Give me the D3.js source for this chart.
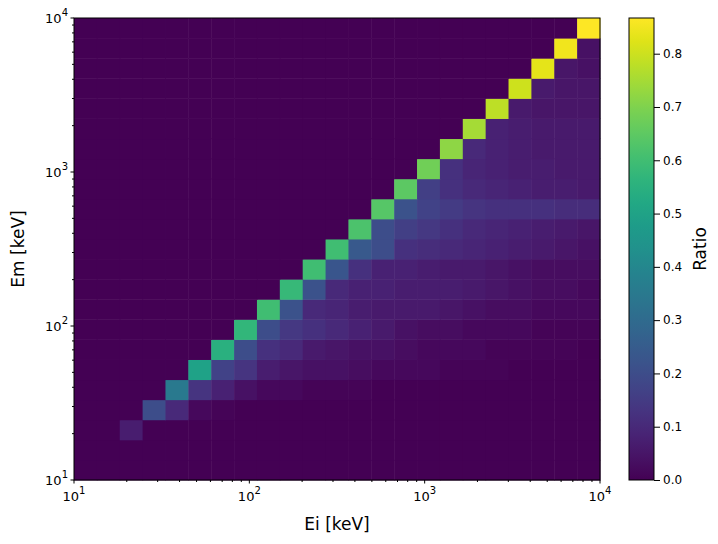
<!DOCTYPE html>
<html>
<head>
<script src="https://cdnjs.cloudflare.com/ajax/libs/d3/7.8.5/d3.min.js"></script>
<style>
  body { margin: 0; background: #fff; }
  text { font-family: "DejaVu Sans", sans-serif; }
</style>
</head>
<body>
<div id="chart"></div>
<script>
// 23 log-spaced bins from 10 to 1e4 keV on both axes
const nBins = 23;
const binEdges = d3.range(nBins + 1).map(k => Math.pow(10, 1 + 3 * k / nBins));
const decadeTicks = [1, 2, 3, 4];

// ratio per Em row, listed from the diagonal column (Ei bin == Em bin) rightwards
const rowsFromDiagonal = [
  [],
  [],
  [0.07],
  [0.2, 0.1, 0.02, 0.01],
  [0.35, 0.13, 0.08, 0.04, 0.02, 0.02, 0.01, 0.01, 0.01],
  [0.5, 0.17, 0.13, 0.07, 0.05, 0.04, 0.04, 0.03, 0.02, 0.02, 0.02, 0.01, 0.01, 0.01],
  [0.55, 0.2, 0.12, 0.1, 0.06, 0.05, 0.04, 0.04, 0.03, 0.02, 0.02, 0.02, 0.01, 0.01, 0.01, 0.01],
  [0.57, 0.2, 0.14, 0.12, 0.1, 0.08, 0.06, 0.04, 0.03, 0.03, 0.02, 0.02, 0.02, 0.01, 0.01, 0.01],
  [0.6, 0.22, 0.1, 0.09, 0.07, 0.06, 0.06, 0.06, 0.05, 0.04, 0.03, 0.03, 0.02, 0.02, 0.02],
  [0.58, 0.22, 0.1, 0.08, 0.08, 0.07, 0.07, 0.07, 0.06, 0.05, 0.04, 0.03, 0.03, 0.02],
  [0.6, 0.23, 0.12, 0.08, 0.08, 0.07, 0.06, 0.06, 0.05, 0.04, 0.03, 0.03, 0.03],
  [0.6, 0.24, 0.2, 0.12, 0.11, 0.1, 0.09, 0.08, 0.07, 0.06, 0.05, 0.04],
  [0.62, 0.2, 0.16, 0.14, 0.12, 0.1, 0.09, 0.08, 0.07, 0.06, 0.05],
  [0.64, 0.22, 0.17, 0.15, 0.13, 0.12, 0.12, 0.12, 0.11, 0.11],
  [0.65, 0.16, 0.12, 0.1, 0.09, 0.08, 0.07, 0.07, 0.06],
  [0.68, 0.12, 0.09, 0.08, 0.07, 0.07, 0.06, 0.06],
  [0.72, 0.1, 0.08, 0.07, 0.06, 0.06, 0.06],
  [0.75, 0.08, 0.07, 0.06, 0.06, 0.06],
  [0.78, 0.06, 0.05, 0.05, 0.05],
  [0.8, 0.06, 0.05, 0.05],
  [0.83, 0.05, 0.04],
  [0.85, 0.04],
  [0.865]
];
const colorTicks = [0, 0.1, 0.2, 0.3, 0.4, 0.5, 0.6, 0.7, 0.8];
const vmax = 0.867;

const width = 718, height = 544;
const margin = { left: 74, right: 118, top: 18, bottom: 64 };
const plotW = width - margin.left - margin.right;
const plotH = height - margin.top - margin.bottom;

const svg = d3.select("#chart").append("svg")
  .attr("width", width).attr("height", height);

const x = d3.scaleLog().domain([10, 1e4]).range([margin.left, margin.left + plotW]);
const y = d3.scaleLog().domain([10, 1e4]).range([margin.top + plotH, margin.top]);
const color = d3.scaleSequential(d3.interpolateViridis).domain([0, vmax]);

// build full cell list
const cells = [];
for (let j = 0; j < nBins; j++) {
  for (let i = 0; i < nBins; i++) {
    const row = rowsFromDiagonal[j];
    const v = i >= j && i - j < row.length ? row[i - j] : 0;
    cells.push({ i, j, v });
  }
}

svg.append("g").selectAll("rect")
  .data(cells)
  .join("rect")
  .attr("x", d => x(binEdges[d.i]))
  .attr("y", d => y(binEdges[d.j + 1]))
  .attr("width", d => x(binEdges[d.i + 1]) - x(binEdges[d.i]) + 0.5)
  .attr("height", d => y(binEdges[d.j]) - y(binEdges[d.j + 1]) + 0.5)
  .attr("fill", d => color(d.v));

svg.append("rect")
  .attr("x", margin.left).attr("y", margin.top)
  .attr("width", plotW).attr("height", plotH)
  .attr("fill", "none").attr("stroke", "#000");

// log ticks with superscript labels
const minor = [];
for (let e = 1; e < 4; e++) for (let m = 2; m <= 9; m++) minor.push(m * Math.pow(10, e));

function powLabel(sel, e) {
  sel.append("tspan").text("10");
  sel.append("tspan").attr("dy", -7).attr("font-size", 10).text(e);
}

const xg = svg.append("g");
minor.forEach(v => xg.append("line").attr("x1", x(v)).attr("x2", x(v))
  .attr("y1", margin.top + plotH).attr("y2", margin.top + plotH + 2).attr("stroke", "#000"));
decadeTicks.forEach(e => {
  const px = x(Math.pow(10, e));
  xg.append("line").attr("x1", px).attr("x2", px)
    .attr("y1", margin.top + plotH).attr("y2", margin.top + plotH + 3.5).attr("stroke", "#000");
  xg.append("text").attr("x", px).attr("y", margin.top + plotH + 21)
    .attr("text-anchor", "middle").attr("font-size", 13).call(powLabel, e);
});

const yg = svg.append("g");
minor.forEach(v => yg.append("line").attr("x1", margin.left - 2).attr("x2", margin.left)
  .attr("y1", y(v)).attr("y2", y(v)).attr("stroke", "#000"));
decadeTicks.forEach(e => {
  const py = y(Math.pow(10, e));
  yg.append("line").attr("x1", margin.left - 3.5).attr("x2", margin.left)
    .attr("y1", py).attr("y2", py).attr("stroke", "#000");
  yg.append("text").attr("x", margin.left - 6).attr("y", py + 5)
    .attr("text-anchor", "end").attr("font-size", 13).call(powLabel, e);
});

svg.append("text").attr("x", margin.left + plotW / 2).attr("y", 530)
  .attr("text-anchor", "middle").attr("font-size", 17).text("Ei [keV]");
svg.append("text").attr("transform", `translate(24,${margin.top + plotH / 2}) rotate(-90)`)
  .attr("text-anchor", "middle").attr("font-size", 17).text("Em [keV]");

// colorbar
const cbX = 629, cbW = 25;
const cy = d3.scaleLinear().domain([0, vmax]).range([margin.top + plotH, margin.top]);
const defs = svg.append("defs");
const grad = defs.append("linearGradient").attr("id", "cb")
  .attr("x1", 0).attr("y1", 1).attr("x2", 0).attr("y2", 0);
d3.range(0, 1.0001, 0.05).forEach(t => grad.append("stop")
  .attr("offset", t).attr("stop-color", d3.interpolateViridis(t)));
svg.append("rect").attr("x", cbX).attr("y", margin.top)
  .attr("width", cbW).attr("height", plotH)
  .attr("fill", "url(#cb)").attr("stroke", "#000");
const cAxis = d3.axisRight(cy).tickValues(colorTicks).tickFormat(d3.format(".1f")).tickSizeOuter(0);
svg.append("g").attr("transform", `translate(${cbX + cbW},0)`).call(cAxis)
  .call(g => g.select(".domain").remove())
  .call(g => g.selectAll("text").attr("font-size", 12).attr("font-family", "DejaVu Sans"));
svg.append("text").attr("transform", `translate(706,${margin.top + plotH / 2}) rotate(-90)`)
  .attr("text-anchor", "middle").attr("font-size", 17).text("Ratio");
</script>
</body>
</html>
